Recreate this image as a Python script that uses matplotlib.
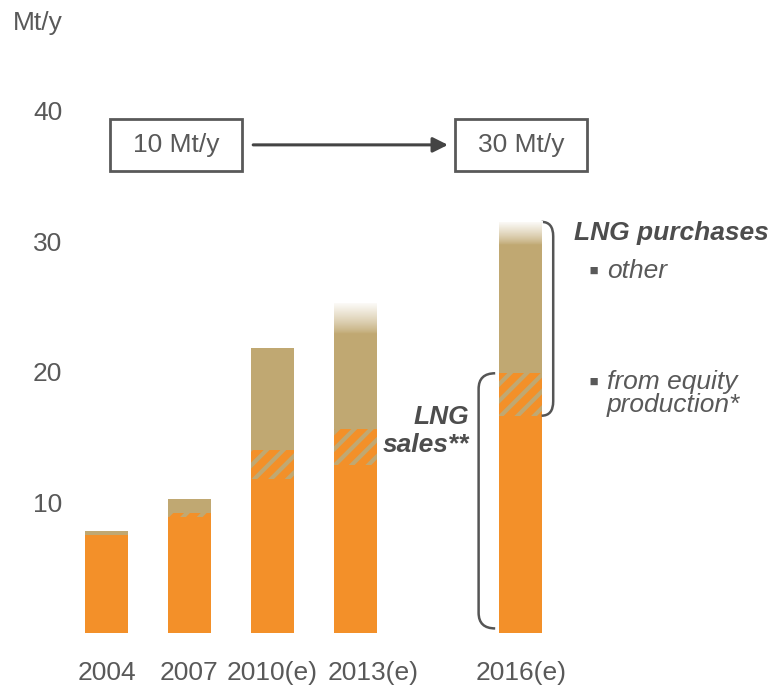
import matplotlib
matplotlib.use('Agg')
import matplotlib.pyplot as plt
from matplotlib.patches import Rectangle, PathPatch
from matplotlib.path import Path
from matplotlib.transforms import ScaledTranslation
import numpy as np

plt.rcParams['font.family'] = ['Liberation Sans', 'DejaVu Sans']
plt.rcParams['hatch.linewidth'] = 3.0

# data (Mt/y)
years = ['2004', '2007', '2010(e)', '2013(e)', '2016(e)']
pos = [0, 1, 2, 3, 5]
equity_sold = [7.5, 8.9, 11.8, 12.9, 16.6]     # orange
equity_purch = [0.0, 0.3, 2.2, 2.7, 3.3]       # hatched
other_purch = [0.3, 1.1, 7.8, 9.7, 11.6]       # tan
fade = [0, 0, 0, 2.4, 1.8]                     # faded top (uncertain)
yticks = [10, 20, 30, 40]

orange = '#F39029'
tan = '#C0A872'
grey = '#595959'
dark = '#4D4D4D'
fs = 19
w = 0.52

fig = plt.figure(figsize=(7.72, 6.85), dpi=100)
ax = fig.add_axes([75 / 772, 52 / 685, 697 / 772, 633 / 685])

ax.bar(pos, equity_sold, w, color=orange, linewidth=0)
ax.bar(pos, equity_purch, w, bottom=equity_sold, facecolor=orange,
       edgecolor=tan, hatch='//', linewidth=0)
base2 = [a + b for a, b in zip(equity_sold, equity_purch)]
ax.bar(pos, other_purch, w, bottom=base2, color=tan, linewidth=0)
totals = [a + b for a, b in zip(base2, other_purch)]

# fade the uncertain top of the later bars
for x, top, f in zip(pos, totals, fade):
    if f <= 0:
        continue
    n = 64
    img = np.ones((n, 1, 4))
    img[:, 0, 3] = np.linspace(0.97, 0.0, n) ** 0.8
    ax.imshow(img, extent=[x - w / 2, x + w / 2, top - f, top],
              aspect='auto', interpolation='bilinear', origin='upper', zorder=3)

ax.set_xlim(-0.38, 8.03)
ax.set_ylim(0, 48.5)

ax.set_xticks(pos)
ax.set_xticklabels(years)
ax.set_yticks(yticks)
ax.tick_params(length=0, labelsize=fs, colors=grey)
ax.tick_params(axis='x', pad=20)
ax.tick_params(axis='y', pad=9)
for s in ax.spines.values():
    s.set_visible(False)
# 2013(e) label sits a little to the right in the original
lab = ax.get_xticklabels()[3]
lab.set_transform(lab.get_transform() + ScaledTranslation(0.18, 0, fig.dpi_scale_trans))

fig.text(13 / 772, 1 - 23 / 685, 'Mt/y', fontsize=fs, color=grey, va='center')

# capacity boxes
box_y, box_h, box_w = 35.4, 4.0, 1.6
for cx, txt in [(0.84, '10 Mt/y'), (pos[-1], '30 Mt/y')]:
    ax.add_patch(Rectangle((cx - box_w / 2, box_y), box_w, box_h, fill=False,
                           edgecolor=grey, linewidth=2))
    ax.text(cx, box_y + box_h / 2, txt, fontsize=fs, color=grey,
            ha='center', va='center')
ax.annotate('', xy=(pos[-1] - box_w / 2 - 0.08, box_y + box_h / 2),
            xytext=(0.84 + box_w / 2 + 0.13, box_y + box_h / 2),
            arrowprops=dict(arrowstyle='-|>,head_length=0.9,head_width=0.45',
                            color='#444444', lw=2.2, shrinkA=0, shrinkB=0))


def bracket(x, y0, y1, dx, dy):
    verts = [(x + dx, y1), (x, y1), (x, y1 - dy), (x, y0 + dy),
             (x, y0), (x + dx, y0)]
    codes = [Path.MOVETO, Path.CURVE3, Path.CURVE3, Path.LINETO,
             Path.CURVE3, Path.CURVE3]
    ax.add_patch(PathPatch(Path(verts, codes), fill=False,
                           edgecolor='#555555', linewidth=1.8))


# LNG sales bracket (left of 2016 bar)
bracket(pos[-1] - 0.51, 0.35, base2[-1], 0.2, 1.2)
# LNG purchases bracket (right of 2016 bar)
bracket(pos[-1] + 0.39, equity_sold[-1] + 0.05, totals[-1], -0.14, 1.1)

ax.text(4.37, 16.55, 'LNG', fontsize=fs, color=dark, fontweight='bold',
        style='italic', ha='right', va='center')
ax.text(4.37, 14.4, 'sales**', fontsize=fs, color=dark, fontweight='bold',
        style='italic', ha='right', va='center')

ax.text(5.64, 30.65, 'LNG purchases', fontsize=fs, color=dark,
        fontweight='bold', style='italic', ha='left', va='center')
ax.text(5.81, 27.7, '\u25aa', fontsize=21, color=grey, ha='left', va='center')
ax.text(6.04, 27.7, 'other', fontsize=fs, color=grey, style='italic',
        ha='left', va='center')
ax.text(5.81, 19.2, '\u25aa', fontsize=21, color=grey, ha='left', va='center')
ax.text(6.04, 19.2, 'from equity', fontsize=fs, color=grey, style='italic',
        ha='left', va='center')
ax.text(6.04, 17.45, 'production*', fontsize=fs, color=grey, style='italic',
        ha='left', va='center')

fig.savefig('out.png', dpi=100)
